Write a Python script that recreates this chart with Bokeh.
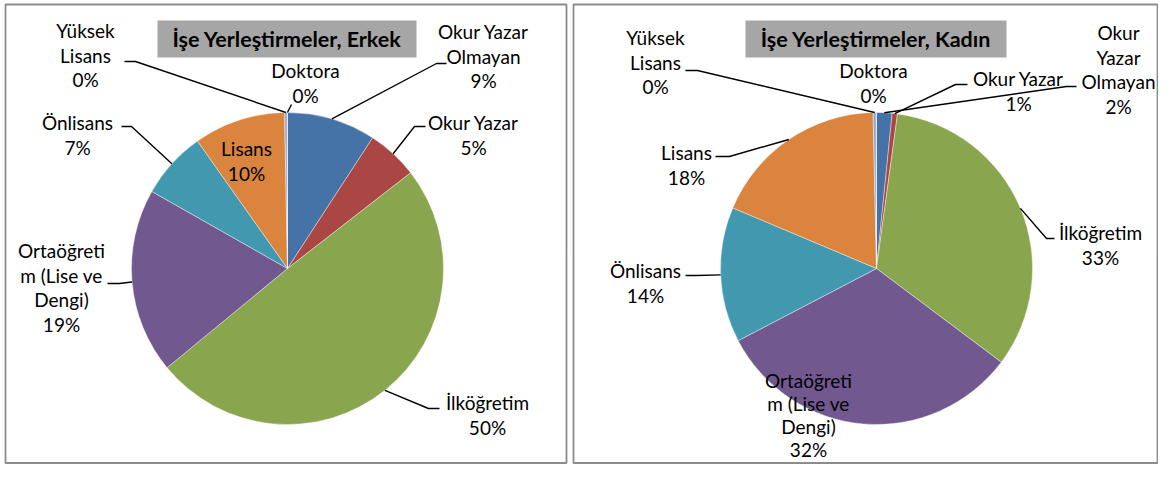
import math
from bokeh.plotting import figure
from bokeh.models import Range1d, ColumnDataSource
from bokeh.core.properties import value
from bokeh.embed import file_html
from bokeh.resources import INLINE

# ---------------- data ----------------
categories = ["Okur Yazar Olmayan", "Okur Yazar", "İlköğretim",
              "Ortaöğretim (Lise ve Dengi)", "Önlisans", "Lisans",
              "Yüksek Lisans", "Doktora"]
erkek_share = [9.2, 5.3, 49.6, 19.2, 7.0, 9.5, 0.28, 0.02]
kadin_share = [1.6, 0.55, 33.1, 32.1, 14.0, 18.3, 0.33, 0.02]
titles = ["İşe Yerleştirmeler, Erkek", "İşe Yerleştirmeler, Kadın"]
colors = ["#4572A7", "#AA4643", "#89A54E", "#71588F",
          "#4198AF", "#DB843D", "#93A9CF", "#A47D7C"]

# label wrapping as drawn in each chart
wrap_erkek = [["Okur Yazar", "Olmayan"], ["Okur Yazar"], ["İlköğretim"],
              ["Ortaöğreti", "m (Lise ve", "Dengi)"], ["Önlisans"], ["Lisans"],
              ["Yüksek", "Lisans"], ["Doktora"]]
wrap_kadin = [["Okur", "Yazar", "Olmayan"], ["Okur Yazar"], ["İlköğretim"],
              ["Ortaöğreti", "m (Lise ve", "Dengi)"], ["Önlisans"], ["Lisans"],
              ["Yüksek", "Lisans"], ["Doktora"]]

# ---------------- layout (picture pixel coords, y downward) ----------------
W, H = 1158, 464
R = 156
FONT = value("Lato")
FS = "19px"
LINE = 24.5

charts = [
    dict(share=erkek_share, wrap=wrap_erkek, title=titles[0], cx=287, cy=268,
         panel=(5, 566), tbox=(157, 416, 20, 57), spacing=[LINE] * 8,
         # text x, first-line y, leader start, leader elbow
         labels=[(483, 31, (446, 63), (436, 63)),
                 (473, 122, (425, 126), (414, 126)),
                 (487, 402, (439, 408), (428, 408)),
                 (61, 250, (107, 283), (119, 283)),
                 (77, 122, (121, 126), (131, 126)),
                 (246, 148, None, None),
                 (85, 30, (124, 61), (135, 61)),
                 (305, 70, (291, 104), None)]),
    dict(share=kadin_share, wrap=wrap_kadin, title=titles[1], cx=876, cy=268,
         panel=(573, 1157), tbox=(745, 1006, 20, 57),
         spacing=[LINE, LINE, LINE, 23, LINE, LINE, LINE, LINE],
         labels=[(1118, 32, (1076, 86), (1066, 86)),
                 (1018, 78, (967, 84), (955, 84)),
                 (1100, 232, (1054, 238), (1046, 238)),
                 (808, 380, None, None),
                 (645, 270, (685, 275), (696, 275)),
                 (686, 152, (715, 156), (729, 156)),
                 (655, 37, (685, 70), (697, 70)),
                 (873, 70, None, None)]),
]


def Y(img_y):
    return 480 - img_y


p = figure(width=W, height=H, output_backend="svg", toolbar_location=None,
           x_range=Range1d(0, W), y_range=Range1d(480 - H, 480),
           min_border=0, outline_line_color=None, x_axis_type=None, y_axis_type=None)
p.grid.visible = False
p.background_fill_color = "white"
p.border_fill_color = "white"

for c in charts:
    # panel border
    l, r = c["panel"]
    p.quad(left=[l], right=[r], top=[Y(4)], bottom=[Y(462.5)], fill_color=None,
           line_color="#8c8c8c", line_width=1.8)

    share = c["share"]
    total = sum(share)
    starts, ends, mids = [], [], []
    cum = 0.0
    for v in share:
        a0 = cum / total
        cum += v
        a1 = cum / total
        starts.append(math.pi / 2 - 2 * math.pi * a0)
        ends.append(math.pi / 2 - 2 * math.pi * a1)
        mids.append(2 * math.pi * (a0 + a1) / 2)
    src = ColumnDataSource(dict(x=[c["cx"]] * len(share), y=[Y(c["cy"])] * len(share),
                                s=starts, e=ends, color=colors))
    p.wedge(x="x", y="y", radius=R, start_angle="s", end_angle="e", direction="clock",
            fill_color="color", line_color="white", line_width=0.4, source=src)

    # title
    x0, x1, y0, y1 = c["tbox"]
    p.quad(left=[x0], right=[x1], top=[Y(y0)], bottom=[Y(y1)], fill_color="#A6A6A6",
           line_color=None)
    p.text(x=[(x0 + x1) / 2], y=[Y((y0 + y1) / 2)], text=[c["title"]],
           text_align="center", text_baseline="middle", text_font=FONT,
           text_font_size="21.5px", text_font_style="bold", text_color="black")

    # labels and leaders
    tx, ty, tt = [], [], []
    lxs, lys = [], []
    for i, v in enumerate(share):
        lx, ly, start, elbow = c["labels"][i]
        lines = c["wrap"][i] + [f"{int(v + 0.5)}%"]
        for k, s in enumerate(lines):
            tx.append(lx)
            ty.append(Y(ly + k * c["spacing"][i]))
            tt.append(s)
        if start is not None:
            th = mids[i]
            px = c["cx"] + R * math.sin(th)
            py = c["cy"] - R * math.cos(th)
            xs = [start[0]] + ([elbow[0]] if elbow else []) + [px]
            ys = [Y(start[1])] + ([Y(elbow[1])] if elbow else []) + [Y(py)]
            lxs.append(xs)
            lys.append(ys)
    p.multi_line(xs=lxs, ys=lys, line_color="black", line_width=1.4)
    p.text(x=tx, y=ty, text=tt, text_align="center", text_baseline="middle",
           text_font=FONT, text_font_size=FS, text_color="black")

open("out.html", "w").write(file_html(p, INLINE))
